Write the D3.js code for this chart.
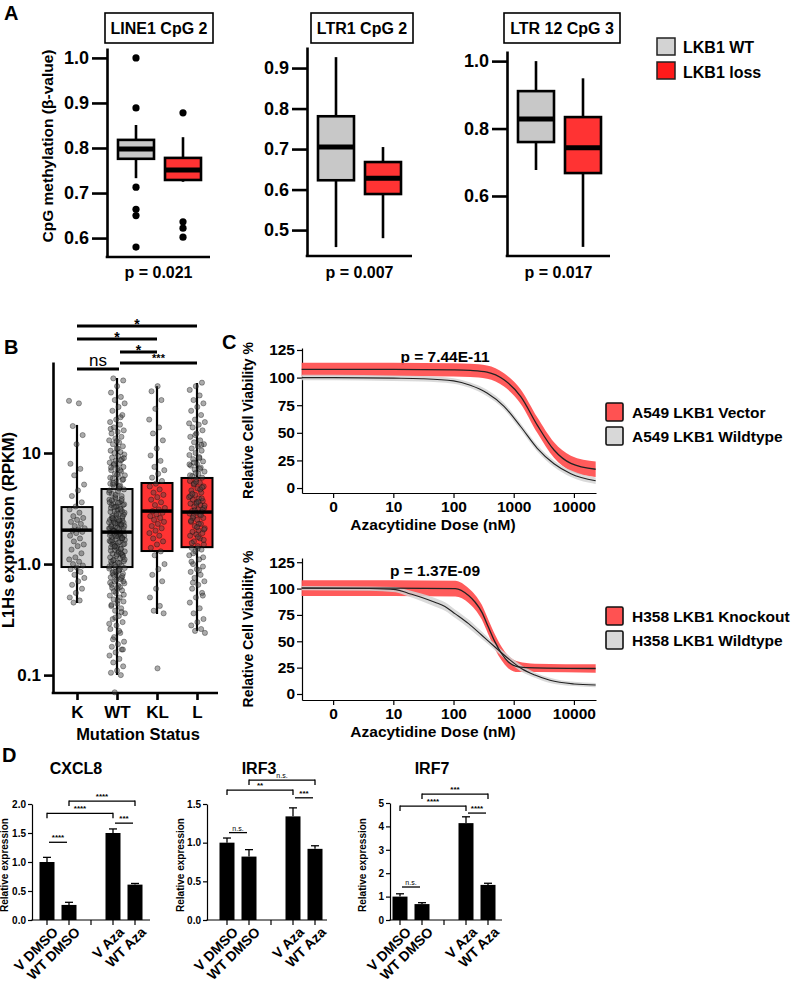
<!DOCTYPE html>
<html><head><meta charset="utf-8">
<script src="https://cdn.jsdelivr.net/npm/d3@7"></script>
<style>body{margin:0;background:#fff} svg{display:block;font-family:"Liberation Sans",Arial,sans-serif}</style>
</head><body><svg id="fig" width="800" height="984"></svg>
<script>
// ---------------- DATA ----------------
// Panel A
const aTitles = ["LINE1 CpG 2", "LTR1 CpG 2", "LTR 12 CpG 3"];
const aPvals = ["p = 0.021", "p = 0.007", "p = 0.017"];
const aGroups = ["LKB1 WT", "LKB1 loss"];
const aDomains = [[0.558, 1.022], [0.436, 0.952], [0.422, 1.03]];
const aTicks = [[0.6, 0.7, 0.8, 0.9, 1.0], [0.5, 0.6, 0.7, 0.8, 0.9], [0.6, 0.8, 1.0]];
// [lower whisker, Q1, median, Q3, upper whisker]
const aBoxWT = [[0.733, 0.776, 0.798, 0.818, 0.851], [0.458, 0.623, 0.705, 0.781, 0.927], [0.677, 0.760, 0.828, 0.911, 1.000]];
const aBoxLoss = [[0.725, 0.729, 0.751, 0.778, 0.824], [0.480, 0.589, 0.628, 0.668, 0.705], [0.449, 0.668, 0.743, 0.834, 0.949]];
const aOutWT = [[1.0, 0.889, 0.713, 0.664, 0.650, 0.580], [], []];
const aOutLoss = [[0.878, 0.636, 0.622, 0.602], [], []];

// Panel B
const bCats = ["K", "WT", "KL", "L"];
const bTicks = [0.1, 1, 10];
const bTickLabels = ["0.1", "1.0", "10"];
const bBox = [[0.446, 0.94, 2.02, 3.26, 17.9], [0.10, 0.94, 1.94, 4.74, 47.4], [0.355, 1.31, 3.0, 5.37, 40], [0.25, 1.42, 2.94, 5.96, 42.7]];
const bPtsK = [29.5, 28, 17.5, 14.5, 12, 8, 7.2, 6.3, 5.2, 4.6, 4.1, 3.6, 3.3, 3.1, 2.9, 2.7, 2.6, 2.5, 2.4, 2.3, 2.2, 2.1, 2.05, 2.0, 1.95, 1.9, 1.8, 1.7, 1.6, 1.5, 1.45, 1.35, 1.25, 1.15, 1.1, 1.05, 1.0, 0.97, 0.93, 0.9, 0.85, 0.8, 0.75, 0.7, 0.65, 0.6, 0.55, 0.5, 0.47, 0.45];
const bPtsWT = [47, 45, 40, 35, 32, 30, 28, 26, 24, 22, 20, 19, 18, 17, 16, 15.5, 15, 14, 13.5, 13, 12.5, 12, 11.5, 11, 10.5, 10.2, 10, 9.7, 9.4, 9.1, 8.8, 8.5, 8.2, 8, 7.8, 7.5, 7.2, 7, 6.8, 6.5, 6.3, 6.1, 5.9, 5.7, 5.5, 5.3, 5.1, 4.9, 4.7, 4.5, 4.3, 4.1, 3.9, 3.8, 3.6, 3.5, 3.4, 3.3, 3.2, 3.1, 3.0, 2.9, 2.8, 2.7, 2.6, 2.55, 2.5, 2.45, 2.4, 2.35, 2.3, 2.25, 2.2, 2.15, 2.1, 2.05, 2.0, 1.97, 1.94, 1.9, 1.87, 1.84, 1.8, 1.77, 1.74, 1.7, 1.66, 1.62, 1.58, 1.54, 1.5, 1.46, 1.42, 1.38, 1.34, 1.3, 1.27, 1.24, 1.21, 1.18, 1.15, 1.12, 1.09, 1.06, 1.03, 1.0, 0.97, 0.94, 0.91, 0.88, 0.85, 0.82, 0.79, 0.76, 0.73, 0.7, 0.67, 0.64, 0.61, 0.58, 0.55, 0.52, 0.5, 0.48, 0.46, 0.44, 0.42, 0.4, 0.38, 0.36, 0.34, 0.32, 0.3, 0.28, 0.26, 0.24, 0.22, 0.2, 0.19, 0.18, 0.17, 0.16, 0.15, 0.14, 0.13, 0.12, 0.11, 0.105, 0.1, 0.07,
  1.1, 1.3, 1.5, 1.7, 1.9, 2.1, 2.3, 2.5, 2.8, 3.1, 3.4, 3.7, 4.0, 4.4, 4.8, 5.2, 1.2, 1.4, 1.6, 1.8, 2.0, 2.2, 2.4, 2.6, 3.0, 3.3, 3.6, 0.9, 0.8, 0.7, 0.6, 1.05, 1.25, 1.45, 1.65, 1.85, 2.05, 2.45, 2.75, 6.0, 7.0, 8.0, 9.0, 11.0, 0.65, 0.75, 0.85, 0.95,
  1.02, 1.08, 1.16, 1.22, 1.32, 1.36, 1.44, 1.52, 1.56, 1.64, 1.72, 1.78, 1.82, 1.92, 1.98, 2.08, 2.12, 2.18, 2.28, 2.32, 2.38, 2.48, 2.58, 2.68, 2.85, 2.95, 3.15, 3.25, 3.45, 3.55, 3.75, 3.85, 4.2, 4.6, 5.0, 5.4, 5.8, 6.4, 7.4, 8.6, 0.98, 0.92, 0.87, 0.83, 0.78, 0.72, 0.68, 0.62, 0.57, 0.53, 0.47, 0.43, 0.37, 0.33, 0.29, 0.25, 0.21, 0.17, 12.8, 16.5, 21];
const bPtsKL = [40, 36, 30, 25, 20, 17, 15, 13, 11, 9.5, 8.5, 7.5, 7, 6.5, 6, 5.6, 5.3, 5, 4.7, 4.4, 4.2, 4, 3.8, 3.6, 3.4, 3.2, 3.1, 3.0, 2.9, 2.8, 2.7, 2.6, 2.5, 2.4, 2.3, 2.2, 2.1, 2.0, 1.9, 1.8, 1.7, 1.6, 1.5, 1.4, 1.3, 1.2, 1.0, 0.9, 0.8, 0.7, 0.6, 0.5, 0.42, 0.38, 0.36, 0.115];
const bPtsL = [43, 40, 37, 33, 30, 28, 26, 24, 22, 20, 19, 18, 17, 16, 15, 14, 13, 12.5, 12, 11.5, 11, 10.5, 10, 9.6, 9.2, 8.8, 8.4, 8, 7.7, 7.4, 7.1, 6.8, 6.5, 6.2, 6, 5.8, 5.6, 5.4, 5.2, 5, 4.8, 4.6, 4.4, 4.2, 4, 3.9, 3.8, 3.7, 3.6, 3.5, 3.4, 3.3, 3.2, 3.1, 3, 2.95, 2.9, 2.85, 2.8, 2.7, 2.6, 2.5, 2.4, 2.3, 2.2, 2.1, 2, 1.95, 1.9, 1.85, 1.8, 1.7, 1.6, 1.5, 1.45, 1.4, 1.35, 1.3, 1.2, 1.1, 1, 0.95, 0.9, 0.85, 0.8, 0.75, 0.7, 0.65, 0.6, 0.55, 0.5, 0.45, 0.4, 0.36, 0.32, 0.3, 0.28, 0.26, 0.25, 0.24,
  2.3, 2.6, 3.1, 3.5, 4.1, 4.7, 5.3, 2.05, 1.75, 1.55, 3.9, 6.6, 7.9, 9.0, 1.25, 1.15,
  2.15, 2.45, 2.75, 3.05, 3.35, 3.65, 4.3, 4.9, 5.5, 6.3, 7.2, 8.2, 1.65, 1.38, 1.05, 11.8, 14.5, 18.5, 0.88, 0.68, 0.52];
const bPts = [bPtsK, bPtsWT, bPtsKL, bPtsL];
const bSigFrom = ["K", "K", "WT", "WT", "K"];
const bSigTo = ["L", "KL", "KL", "L", "WT"];
const bSigLabel = ["*", "*", "*", "***", "ns"];

// Panel C
const cTicksY = [0, 25, 50, 75, 100, 125];
const cTicksX = [1, 10, 100, 1000, 10000];
const cTickLabelsX = ["0", "10", "100", "1000", "10000"];
const cPvals = ["p = 7.44E-11", "p = 1.37E-09"];
const cLegendTop = ["A549 LKB1 Vector", "A549 LKB1 Wildtype"];
const cLegendBot = ["H358 LKB1 Knockout", "H358 LKB1 Wildtype"];
const a549VecDose = [0.3, 1, 10, 100, 190, 360, 690, 1310, 2460, 4670, 8900, 23000];
const a549VecVia = [107.5, 107.5, 107.5, 107, 106.5, 105, 98, 82.7, 57, 34.4, 22.3, 17];
const a549VecErr = [6, 6, 6, 6, 6, 6, 6, 6.5, 7, 7, 7, 7];
const a549WtDose = [0.3, 1, 10, 30, 100, 190, 360, 690, 1310, 2460, 4670, 8900, 23000];
const a549WtVia = [100, 100, 99.5, 99, 97, 93, 86, 74, 55.5, 36, 22, 13, 6.6];
const a549WtErr = [2.5, 2.5, 2.5, 2.5, 2.5, 2.5, 3, 3, 3, 3, 3, 3, 3];
const h358KoDose = [0.3, 1, 10, 107, 178, 229, 295, 379, 488, 628, 809, 1186, 2250, 23000];
const h358KoVia = [100.5, 100.5, 100.5, 100, 93.4, 87, 77.7, 63.5, 49.4, 38.4, 30.5, 25.8, 24.8, 24.2];
const h358KoErr = [7.5, 7.5, 7.5, 7.5, 7, 7, 7, 7, 7, 6.5, 6, 5, 4, 4];
const h358WtDose = [0.3, 4, 11, 17.5, 29, 49, 72, 107, 178, 295, 488, 809, 1340, 2250, 4000, 10000, 23000];
const h358WtVia = [100.5, 100, 99, 95.6, 91.8, 87, 83, 76, 66.7, 55.7, 44.6, 33.7, 24.2, 18, 13, 9.5, 8.5];
const h358WtErr = [2, 2, 2.5, 3, 3.5, 4, 4, 4, 4, 3.5, 3, 3, 3, 2.5, 2.5, 2, 2];

// Panel D
const dCats = ["V DMSO", "WT DMSO", "", "V Aza", "WT Aza"];
const dGenes = ["CXCL8", "IRF3", "IRF7"];
const dMax = [2.0, 1.5, 5];
const dTicks = [[0, 0.5, 1.0, 1.5, 2.0], [0, 0.5, 1.0, 1.5], [0, 1, 2, 3, 4, 5]];
const cxcl8Mean = [1.0, 0.26, null, 1.5, 0.61];
const cxcl8Err = [0.08, 0.045, null, 0.07, 0.02];
const irf3Mean = [1.0, 0.82, null, 1.34, 0.92];
const irf3Err = [0.06, 0.09, null, 0.11, 0.04];
const irf7Mean = [1.0, 0.68, null, 4.14, 1.5];
const irf7Err = [0.12, 0.06, null, 0.27, 0.07];
// brackets: [fromIdx, toIdx, level (data units), label, hasLegs]
const cxcl8Sig = [[1, 4, 2.05, "****", 1], [0, 3, 1.84, "****", 1], [3, 4, 1.67, "***", 0], [0, 1, 1.34, "****", 0]];
const irf3Sig = [[1, 4, 1.81, "n.s.", 1], [0, 3, 1.68, "**", 1], [3, 4, 1.58, "***", 0], [0, 1, 1.13, "n.s.", 0]];
const irf7Sig = [[1, 4, 5.38, "***", 1], [0, 3, 4.87, "****", 1], [3, 4, 4.57, "****", 0], [0, 1, 1.41, "n.s.", 0]];

// ---------------- DRAW ----------------
const svg = d3.select("#fig");
const GRAY = "#c8c8c8", RED = "#ff3333";
const FF = "Liberation Sans, Arial, sans-serif";

function text(g, x, y, s, size, opt = {}) {
  return g.append("text").attr("x", x).attr("y", y).text(s)
    .attr("font-size", size).attr("font-weight", opt.w || "bold")
    .attr("text-anchor", opt.a || "start").attr("fill", opt.f || "#000");
}
function line(g, x1, y1, x2, y2, w, c = "#000") {
  return g.append("line").attr("x1", x1).attr("y1", y1).attr("x2", x2).attr("y2", y2)
    .attr("stroke", c).attr("stroke-width", w);
}
function vtext(g, x, y, s, size, w = "bold") {
  return g.append("text").attr("transform", `translate(${x},${y}) rotate(-90)`)
    .attr("text-anchor", "middle").attr("font-size", size).attr("font-weight", w).text(s);
}

// Panel labels
text(svg, 4, 20, "A", 20);
text(svg, 4, 354, "B", 20);
text(svg, 222, 349, "C", 20);
text(svg, 2, 762, "D", 20);

// ---- Panel A ----
const aLayout = [{ ax: 107, ex: 210, top: 48, bot: 257, tb: [105, 213] },
                 { ax: 307, ex: 412, top: 47, bot: 256, tb: [311, 413] },
                 { ax: 507, ex: 610, top: 51, bot: 256, tb: [504, 620] }];
vtext(svg, 53, 146, "CpG methylation (β-value)", 15.5);
aTitles.forEach((t, i) => {
  const L = aLayout[i];
  const g = svg.append("g");
  const y = d3.scaleLinear().domain(aDomains[i]).range([L.bot, L.top]);
  const x = d3.scalePoint().domain(aGroups).range([L.ax + 29, L.ax + 76]);
  g.append("rect").attr("x", L.tb[0]).attr("y", 13).attr("width", L.tb[1] - L.tb[0]).attr("height", 30)
    .attr("fill", "#fff").attr("stroke", "#000").attr("stroke-width", 1.6);
  text(g, (L.tb[0] + L.tb[1]) / 2, 34, t, 16, { a: "middle" });
  const ax = g.append("g").attr("transform", `translate(${L.ax},0)`)
    .call(d3.axisLeft(y).tickValues(aTicks[i]).tickFormat(d3.format(".1f")).tickSize(15).tickSizeOuter(0).tickPadding(3));
  ax.selectAll("path,line").attr("stroke", "#000").attr("stroke-width", 2.6);
  ax.selectAll("text").attr("font-size", 18).attr("font-weight", "bold").attr("font-family", FF);
  line(g, L.ax - 1.3, L.bot, L.ex, L.bot, 2.6);
  const stats = [aBoxWT[i], aBoxLoss[i]], outs = [aOutWT[i], aOutLoss[i]];
  aGroups.forEach((grp, j) => {
    const s = stats[j], cx = x(grp), hw = 18;
    line(g, cx, y(s[0]), cx, y(s[4]), 2.6);
    g.append("rect").attr("x", cx - hw).attr("y", y(s[3])).attr("width", 2 * hw).attr("height", y(s[1]) - y(s[3]))
      .attr("fill", j ? RED : GRAY).attr("stroke", "#000").attr("stroke-width", 2.6);
    line(g, cx - hw, y(s[2]), cx + hw, y(s[2]), 5);
    outs[j].forEach(v => g.append("circle").attr("cx", cx).attr("cy", y(v)).attr("r", 3.6).attr("fill", "#000"));
  });
  text(g, (L.ax + L.ex) / 2, 278, aPvals[i], 16, { a: "middle" });
});
// legend A
aGroups.forEach((grp, j) => {
  svg.append("rect").attr("x", 657).attr("y", 38 + j * 24).attr("width", 18).attr("height", 17)
    .attr("fill", j ? "#ff1a1a" : "#d3d3d3").attr("stroke", "#222").attr("stroke-width", 1.5);
  text(svg, 683, 53 + j * 25, grp, 16);
});

// ---- Panel B ----
{
  const g = svg.append("g");
  const y = d3.scaleLog().domain([0.069, 66]).range([693, 362]);
  const x = d3.scalePoint().domain(bCats).range([77, 197]);
  const ax = g.append("g").attr("transform", "translate(53,0)")
    .call(d3.axisLeft(y).tickValues(bTicks).tickFormat((d, i) => bTickLabels[i]).tickSize(9).tickSizeOuter(0).tickPadding(3));
  ax.selectAll("path,line").attr("stroke", "#000").attr("stroke-width", 2.6);
  ax.selectAll("text").attr("font-size", 17).attr("font-weight", "bold").attr("font-family", FF);
  const bx = g.append("g").attr("transform", "translate(0,693)")
    .call(d3.axisBottom(x).tickSize(7).tickSizeOuter(0).tickPadding(6));
  bx.select("path").remove();
  bx.selectAll("line").attr("stroke", "#000").attr("stroke-width", 2.6);
  bx.selectAll("text").attr("font-size", 17).attr("font-weight", "bold").attr("font-family", FF);
  line(g, 51.7, 693, 218, 693, 2.6);
  text(g, 138, 740, "Mutation Status", 16.5, { a: "middle" });
  vtext(g, 14, 530, "L1Hs expression (RPKM)", 16.5);
  bCats.forEach((c, i) => {
    const s = bBox[i], cx = x(c), hw = 15.5;
    line(g, cx, y(s[0]), cx, y(s[4]), 2.2);
    g.append("rect").attr("x", cx - hw).attr("y", y(s[3])).attr("width", 2 * hw).attr("height", y(s[1]) - y(s[3]))
      .attr("fill", i < 2 ? "#d3d3d3" : RED).attr("stroke", "#000").attr("stroke-width", 2);
  });
  bCats.forEach((c, i) => {
    const cx = x(c);
    bPts[i].forEach((v, k) => {
      const jit = (((k * 0.618034 + i * 0.27) % 1) - 0.5) * 16;
      g.append("circle").attr("cx", cx + jit).attr("cy", y(v)).attr("r", 2.6)
        .attr("fill", "#444").attr("fill-opacity", 0.45).attr("stroke", "#000").attr("stroke-opacity", 0.55).attr("stroke-width", 0.6);
    });
  });
  bCats.forEach((c, i) => {
    const s = bBox[i], cx = x(c);
    line(g, cx - 15.5, y(s[2]), cx + 15.5, y(s[2]), 3.5);
  });
  const sigY = [326, 339, 352, 363, 369];
  bSigLabel.forEach((lab, k) => {
    const x1 = x(bSigFrom[k]) + (k === 3 || k === 2 ? 3 : 0), x2 = x(bSigTo[k]) + (k === 4 ? 2 : 0);
    line(g, x1, sigY[k], x2, sigY[k], 2.8);
    if (lab === "ns") text(g, (x1 + x2) / 2, sigY[k] - 3, lab, 17, { a: "middle", w: "normal" });
    else text(g, (x1 + x2) / 2, sigY[k] + (lab === "***" ? 0 : 4) - 1, lab, lab === "***" ? 11 : 14, { a: "middle" });
  });
}

// ---- Panel C ----
function drawC(cfg) {
  const g = svg.append("g");
  const y = d3.scaleLinear().domain(cfg.yDom).range([cfg.bot, cfg.top]);
  const x = d3.scaleLog().domain([0.304, 23280]).range([302, 596]);
  const ax = g.append("g").attr("transform", "translate(302,0)")
    .call(d3.axisLeft(y).tickValues(cTicksY).tickSize(5).tickSizeOuter(0).tickPadding(2));
  ax.selectAll("path,line").attr("stroke", "#000").attr("stroke-width", 1.2);
  ax.selectAll("text").attr("font-size", 15.5).attr("font-weight", "bold").attr("font-family", FF);
  const bx = g.append("g").attr("transform", `translate(0,${cfg.bot})`)
    .call(d3.axisBottom(x).tickValues(cTicksX).tickFormat((d, i) => cTickLabelsX[i]).tickSize(5).tickSizeOuter(0).tickPadding(3));
  bx.selectAll("path,line").attr("stroke", "#000").attr("stroke-width", 1.2);
  bx.selectAll("text").attr("font-size", 15.5).attr("font-weight", "bold").attr("font-family", FF);
  text(g, 433, cfg.bot + 37, "Azacytidine Dose (nM)", 15.5, { a: "middle" });
  vtext(g, 253, (cfg.top + cfg.bot) / 2, "Relative Cell Viability %", 14);
  text(g, cfg.px, cfg.py, cfg.p, 15.5, { a: "middle" });
  const band = (D, V, E) => d3.area().curve(d3.curveMonotoneX)
    .x((d, i) => x(D[i])).y0((d, i) => y(V[i] - E[i])).y1((d, i) => y(V[i] + E[i]))(V);
  const ln = (D, V) => d3.line().curve(d3.curveMonotoneX).x((d, i) => x(D[i])).y((d, i) => y(V[i]))(V);
  g.append("path").attr("d", band(cfg.rD, cfg.rV, cfg.rE)).attr("fill", "#ff5252").attr("fill-opacity", 0.95);
  g.append("path").attr("d", band(cfg.gD, cfg.gV, cfg.gE)).attr("fill", "#d4d4d4").attr("fill-opacity", 0.85);
  g.append("path").attr("d", ln(cfg.gD, cfg.gV)).attr("fill", "none").attr("stroke", "#222").attr("stroke-width", 1.1);
  g.append("path").attr("d", ln(cfg.rD, cfg.rV)).attr("fill", "none").attr("stroke", "#222").attr("stroke-width", 1.3);
  cfg.leg.forEach((s, j) => {
    g.append("rect").attr("x", 606).attr("y", cfg.ly + j * 24).attr("width", 17).attr("height", 18).attr("rx", 1.5)
      .attr("fill", j ? "#d8d8d8" : "#ff5252").attr("stroke", "#111").attr("stroke-width", 1.6);
    text(g, 632, cfg.ly + 15 + j * 24, s, 15.5);
  });
}
drawC({ yDom: [-4.5, 126.8], top: 348, bot: 493, p: cPvals[0], px: 445, py: 362, ly: 403, leg: cLegendTop,
  rD: a549VecDose, rV: a549VecVia, rE: a549VecErr, gD: a549WtDose, gV: a549WtVia, gE: a549WtErr });
drawC({ yDom: [-5.7, 129], top: 558, bot: 700, p: cPvals[1], px: 435, py: 576, ly: 607, leg: cLegendBot,
  rD: h358KoDose, rV: h358KoVia, rE: h358KoErr, gD: h358WtDose, gV: h358WtVia, gE: h358WtErr });

// ---- Panel D ----
function drawD(k, cfg) {
  const g = svg.append("g");
  const y = d3.scaleLinear().domain([0, dMax[k]]).range([920, 920 - cfg.pxPerMax]);
  const x = d3.scalePoint().domain(d3.range(5)).range([cfg.c0, cfg.c0 + 88]);
  text(g, cfg.tx, 774, dGenes[k], 16, { a: "middle" });
  const ax = g.append("g").attr("transform", `translate(${cfg.ax},0)`)
    .call(d3.axisLeft(y).tickValues(dTicks[k]).tickFormat(dMax[k] > 2 ? d3.format("d") : d3.format(".1f")).tickSize(4).tickSizeOuter(0).tickPadding(2));
  ax.selectAll("path,line").attr("stroke", "#000").attr("stroke-width", 1.2);
  ax.selectAll("text").attr("font-size", 10).attr("font-weight", "bold").attr("font-family", FF);
  line(g, cfg.ax - 0.6, 920, cfg.ex, 920, 1.2);
  d3.range(5).forEach(i => line(g, x(i), 920, x(i), 925, 1.2));
  vtext(g, cfg.yt, 865, "Relative expression", 10, "bold");
  cfg.mean.forEach((m, i) => {
    if (m === null) return;
    const e = cfg.err[i];
    line(g, x(i), y(m), x(i), y(m + e), 1.3);
    line(g, x(i) - 4, y(m + e), x(i) + 4, y(m + e), 1.3);
    g.append("rect").attr("x", x(i) - 7.5).attr("y", y(m)).attr("width", 15).attr("height", 920 - y(m)).attr("fill", "#000");
  });
  cfg.sig.forEach(s => {
    const [a, b, lv, lab, legs] = s;
    const yy = y(lv);
    const x1 = legs ? x(a) : x(a) + 2, x2 = legs ? x(b) : x(b) - 2;
    line(g, x1, yy, x2, yy, 1.3);
    if (legs) { line(g, x1, yy - 0.6, x1, yy + 5, 1.3); line(g, x2, yy - 0.6, x2, yy + 5, 1.3); }
    text(g, (x1 + x2) / 2, yy - 2, lab, lab === "n.s." ? 7 : 8, { a: "middle", w: lab === "n.s." ? "normal" : "bold" });
  });
  dCats.forEach((c, i) => {
    if (!c) return;
    g.append("text").attr("transform", `translate(${x(i) + 5},${926}) rotate(-45)`)
      .attr("text-anchor", "end").attr("dy", "0.7em").attr("font-size", 14).attr("font-weight", "bold").text(c);
  });
}
drawD(0, { ax: 32, ex: 150, c0: 47, tx: 76, yt: 8, pxPerMax: 116, mean: cxcl8Mean, err: cxcl8Err, sig: cxcl8Sig });
drawD(1, { ax: 207, ex: 327, c0: 227, tx: 259, yt: 184, pxPerMax: 116, mean: irf3Mean, err: irf3Err, sig: irf3Sig });
drawD(2, { ax: 390, ex: 502, c0: 400, tx: 432, yt: 366, pxPerMax: 117, mean: irf7Mean, err: irf7Err, sig: irf7Sig });
</script></body></html>
